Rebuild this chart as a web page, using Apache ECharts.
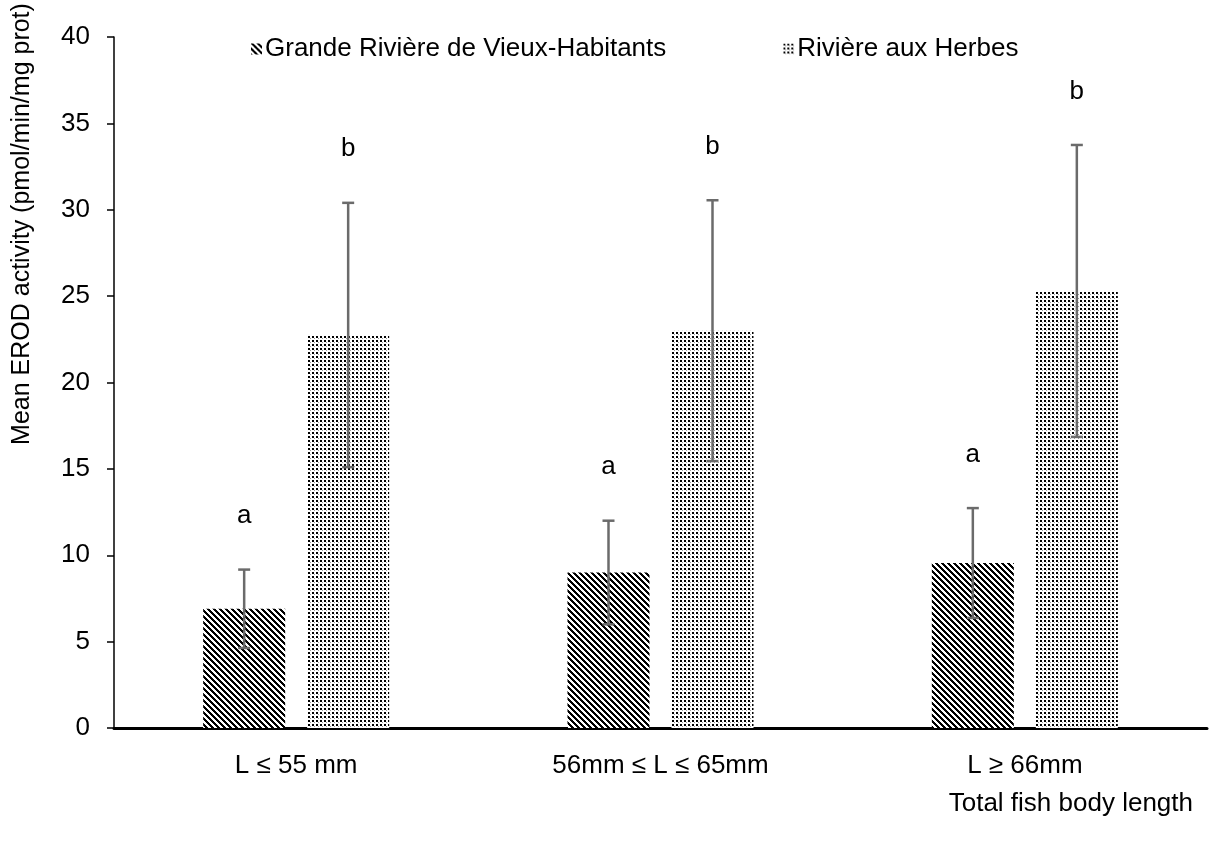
<!DOCTYPE html>
<html>
<head>
<meta charset="utf-8">
<script src="https://cdn.jsdelivr.net/npm/echarts@6/dist/echarts.min.js"></script>
<style>
html,body{margin:0;padding:0;background:#fff;}
#main{width:1209px;height:842px;}
</style>
</head>
<body>
<div id="main"></div>
<script>
// ---- data ----
var categories = ['L \u2264 55 mm', '56mm \u2264 L \u2264 65mm', 'L \u2265 66mm'];
var seriesNames = ['Grande Rivi\u00e8re de Vieux-Habitants', 'Rivi\u00e8re aux Herbes'];
var grvhMean = [6.9, 9.0, 9.55];
var grvhSD = [2.27, 3.0, 3.18];
var rahMean = [22.75, 23.0, 25.3];
var rahSD = [7.65, 7.55, 8.45];
var grvhLetters = ['a', 'a', 'a'];
var rahLetters = ['b', 'b', 'b'];
var yTicks = [0, 5, 10, 15, 20, 25, 30, 35, 40];

// ---- patterns ----
function stripePattern() {
  var c = document.createElement('canvas');
  var n = 6;
  c.width = n; c.height = n;
  var ctx = c.getContext('2d');
  ctx.fillStyle = '#fff';
  ctx.fillRect(0, 0, n, n);
  ctx.fillStyle = '#000';
  for (var x = 0; x < n; x++) {
    for (var y = 0; y < n; y++) {
      var d = ((x - y) % n + n) % n;
      if (d < 3) ctx.fillRect(x, y, 1, 1);
    }
  }
  return c;
}
function dotPattern() {
  var c = document.createElement('canvas');
  c.width = 4; c.height = 4;
  var ctx = c.getContext('2d');
  ctx.fillStyle = '#fff';
  ctx.fillRect(0, 0, 4, 4);
  ctx.fillStyle = '#000';
  ctx.fillRect(0, 0, 2, 2);
  ctx.fillStyle = '#9a9a9a';
  ctx.fillRect(2, 2, 1, 1);
  return c;
}
var stripe = { image: stripePattern(), repeat: 'repeat' };
var dots = { image: dotPattern(), repeat: 'repeat' };

var BAR_W = 82, BAR_GAP = 22;
var FONT = 'Liberation Sans, Arial, sans-serif';

function errorSeries(means, sds, letters, sideSign) {
  var data = means.map(function (m, i) { return [i, m, sds[i]]; });
  return {
    type: 'custom',
    silent: true,
    z: 5,
    data: data,
    renderItem: function (params, api) {
      var idx = api.value(0), m = api.value(1), sd = api.value(2);
      var letter = letters[params.dataIndex];
      var off = sideSign * (BAR_W + BAR_GAP) / 2;
      var top = api.coord([idx, m + sd]);
      var bot = api.coord([idx, m - sd]);
      var lab = api.coord([idx, m + sd + 3.1]);
      var x = top[0] + off;
      var cap = 6;
      var st = { stroke: '#6b6b6b', lineWidth: 2.5 };
      return {
        type: 'group',
        children: [
          { type: 'line', shape: { x1: x, y1: top[1], x2: x, y2: bot[1] }, style: st },
          { type: 'line', shape: { x1: x - cap, y1: top[1], x2: x + cap, y2: top[1] }, style: st },
          { type: 'line', shape: { x1: x - cap, y1: bot[1], x2: x + cap, y2: bot[1] }, style: st },
          { type: 'text', x: x, y: lab[1], style: { text: letter, fill: '#000', font: '26px ' + FONT, textAlign: 'center', textVerticalAlign: 'middle' } }
        ]
      };
    }
  };
}

var chart = echarts.init(document.getElementById('main'));
chart.setOption({
  backgroundColor: '#fff',
  animation: false,
  textStyle: { fontFamily: FONT },
  grid: { left: 114, right: 2, top: 37, bottom: 114, containLabel: false },
  legend: {
    left: 246, top: 31,
    itemWidth: 11, itemHeight: 11, itemGap: 117,
    icon: 'rect',
    textStyle: { fontSize: 26, color: '#000', fontFamily: FONT, padding: [0, 0, 0, -2] },
    data: seriesNames
  },
  xAxis: {
    type: 'category',
    data: categories,
    axisLine: { lineStyle: { color: '#000', width: 3 } },
    axisTick: { show: false },
    axisLabel: { fontSize: 26, color: '#000', margin: 25, fontFamily: FONT }
  },
  yAxis: {
    type: 'value',
    min: 0, max: 40, interval: 5,
    axisLine: { show: true, lineStyle: { color: '#000', width: 1.5 } },
    axisTick: { show: true, length: 7, lineStyle: { color: '#000', width: 1.5 } },
    splitLine: { show: false },
    axisLabel: { fontSize: 26, color: '#000', margin: 24, fontFamily: FONT,
      formatter: function (v) { return yTicks.indexOf(v) >= 0 ? String(v) : ''; } }
  },
  graphic: [
    { type: 'text', x: 22, y: 224, rotation: Math.PI / 2,
      style: { text: 'Mean EROD activity (pmol/min/mg prot)', font: '25px ' + FONT, fill: '#000', textAlign: 'center', textVerticalAlign: 'middle' } },
    { type: 'text', x: 1193, y: 804,
      style: { text: 'Total fish body length', font: '26px ' + FONT, fill: '#000', textAlign: 'right', textVerticalAlign: 'middle' } }
  ],
  series: [
    { name: seriesNames[0], type: 'bar', data: grvhMean, barWidth: BAR_W, barGap: (BAR_GAP / BAR_W * 100) + '%',
      itemStyle: { color: stripe } },
    { name: seriesNames[1], type: 'bar', data: rahMean, barWidth: BAR_W,
      itemStyle: { color: dots } },
    errorSeries(grvhMean, grvhSD, grvhLetters, -1),
    errorSeries(rahMean, rahSD, rahLetters, 1)
  ]
});
</script>
</body>
</html>
